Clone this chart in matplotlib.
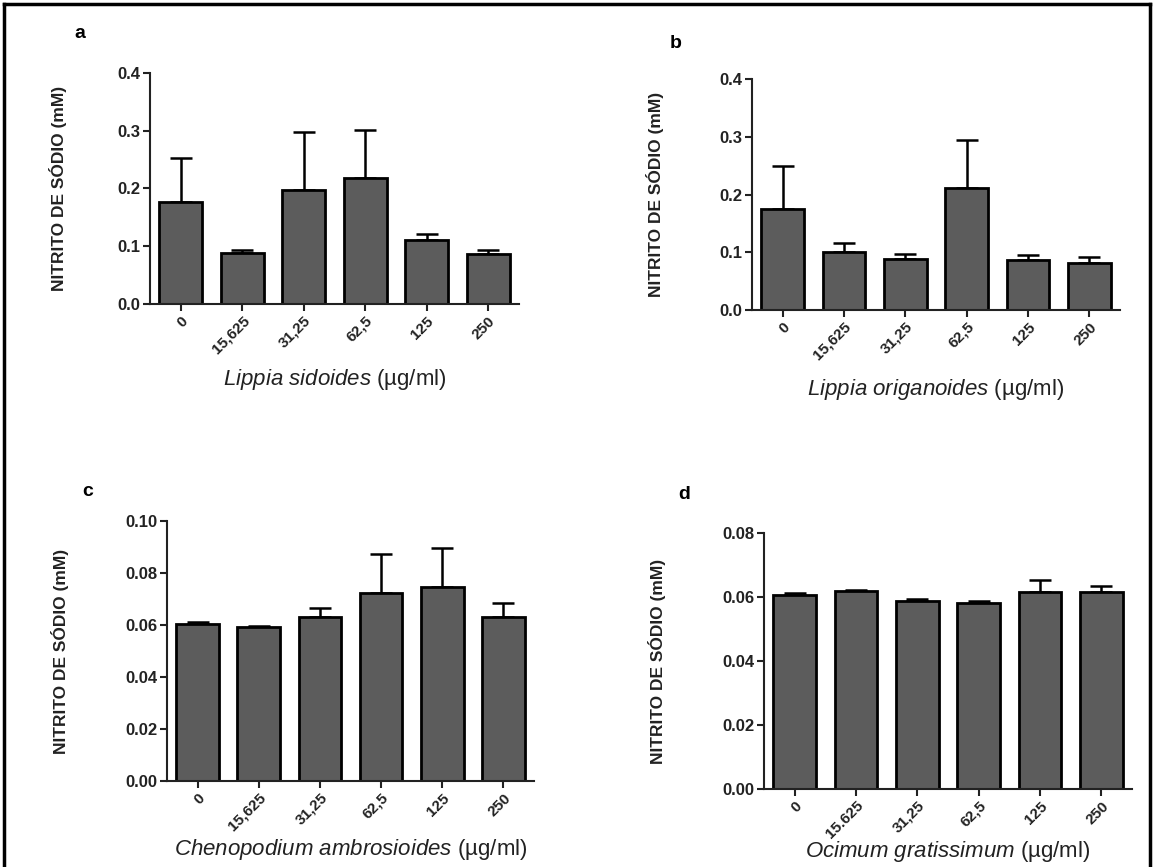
import numpy as np
import matplotlib
matplotlib.use("Agg")
import matplotlib.pyplot as plt
from matplotlib.lines import Line2D
from matplotlib.ticker import FormatStrFormatter, MultipleLocator

plt.rcParams['font.family'] = ['Liberation Sans', 'DejaVu Sans']
plt.rcParams['mathtext.fontset'] = 'custom'
plt.rcParams['mathtext.it'] = 'Liberation Sans:italic'
plt.rcParams['mathtext.rm'] = 'Liberation Sans'

# concentrations (ug/ml)
doses = ['0', '15,625', '31,25', '62,5', '125', '250']
doses_d = ['0', '15.625', '31,25', '62,5', '125', '250']

# mean nitrite (mM) and upper error (SEM) per panel
mean_a = [0.177, 0.089, 0.197, 0.218, 0.111, 0.087]
err_a = [0.075, 0.005, 0.101, 0.084, 0.011, 0.006]
mean_b = [0.175, 0.100, 0.088, 0.211, 0.086, 0.082]
err_b = [0.075, 0.016, 0.009, 0.083, 0.010, 0.009]
mean_c = [0.0605, 0.0594, 0.0631, 0.0724, 0.0746, 0.0630]
err_c = [0.0007, 0.0003, 0.0033, 0.0149, 0.0149, 0.0054]
mean_d = [0.0606, 0.0618, 0.0587, 0.0582, 0.0616, 0.0616]
err_d = [0.0007, 0.0003, 0.0007, 0.0007, 0.0038, 0.0017]

species = ['Lippia\\ sidoides', 'Lippia\\ origanoides',
           'Chenopodium\\ ambrosioides', 'Ocimum\\ gratissimum']
letters = ['a', 'b', 'c', 'd']

W, H = 1154, 867
fig = plt.figure(figsize=(W / 100, H / 100), dpi=100)


def px_box(l, r, t, b):
    return [l / W, 1 - b / H, (r - l) / W, (b - t) / H]


# axes boxes in pixels (left, right, top, bottom)
boxes = [(150, 519, 73, 304), (752, 1120, 79, 310),
         (167, 534, 521, 781), (764, 1132, 533, 789)]
ylims = [0.4, 0.4, 0.10, 0.08]
ysteps = [0.1, 0.1, 0.02, 0.02]
yfmts = ['%.1f', '%.1f', '%.2f', '%.2f']
means = [mean_a, mean_b, mean_c, mean_d]
errs = [err_a, err_b, err_c, err_d]
ticklabels = [doses, doses, doses, doses_d]
# label / letter positions in pixels
letter_pos = [(80, 34), (676, 43), (88, 491), (684, 494)]
ylabel_x = [58, 655, 60, 657]
xlabel_y = [380, 389, 849, 851]

for i in range(4):
    ax = fig.add_axes(px_box(*boxes[i]))
    x = np.arange(len(means[i]))
    ax.bar(x, means[i], width=0.7, color='#5c5c5c', edgecolor='black',
           linewidth=2.0, zorder=2)
    ax.errorbar(x, means[i], yerr=[np.zeros(len(errs[i])), errs[i]],
                fmt='none', ecolor='black', elinewidth=1.8, capsize=8,
                capthick=1.8, zorder=1)
    ax.set_xlim(-0.5, 5.5)
    ax.set_ylim(0, ylims[i])
    ax.yaxis.set_major_locator(MultipleLocator(ysteps[i]))
    ax.yaxis.set_major_formatter(FormatStrFormatter(yfmts[i]))
    ax.set_xticks(x)
    ax.set_xticklabels(ticklabels[i], rotation=45, ha='right',
                       rotation_mode='anchor', fontsize=11, fontweight='bold',
                       color='#222222')
    for lab in ax.get_yticklabels():
        lab.set_fontsize(12)
        lab.set_fontweight('bold')
        lab.set_color('#222222')
    for s in ['top', 'right']:
        ax.spines[s].set_visible(False)
    for s in ['left', 'bottom']:
        ax.spines[s].set_linewidth(1.5)
        ax.spines[s].set_color('#222222')
    ax.tick_params(axis='both', direction='out', length=5, width=1.5,
                   pad=2, colors='#222222')

    l, r, t, b = boxes[i]
    fig.text(ylabel_x[i] / W, 1 - (t + b) / 2 / H, 'NITRITO DE SÓDIO (mM)',
             rotation=90, ha='center', va='center', fontsize=12.5,
             fontweight='bold', color='#222222')
    fig.text((l + r) / 2 / W, 1 - xlabel_y[i] / H,
             '$\\mathit{' + species[i] + '}$ (µg/ml)',
             ha='center', va='center', fontsize=16, color='#222222')
    fig.text(letter_pos[i][0] / W, 1 - letter_pos[i][1] / H, letters[i],
             ha='center', va='center', fontsize=14, fontweight='bold')

# outer frame
fig.add_artist(Line2D([4 / W, 1150 / W], [1 - 4 / H, 1 - 4 / H],
                      color='black', linewidth=2.5))
fig.add_artist(Line2D([4 / W, 4 / W], [0, 1 - 4 / H],
                      color='black', linewidth=2.5))
fig.add_artist(Line2D([1150 / W, 1150 / W], [0, 1 - 4 / H],
                      color='black', linewidth=2.5))

fig.savefig('out.png', dpi=100)
